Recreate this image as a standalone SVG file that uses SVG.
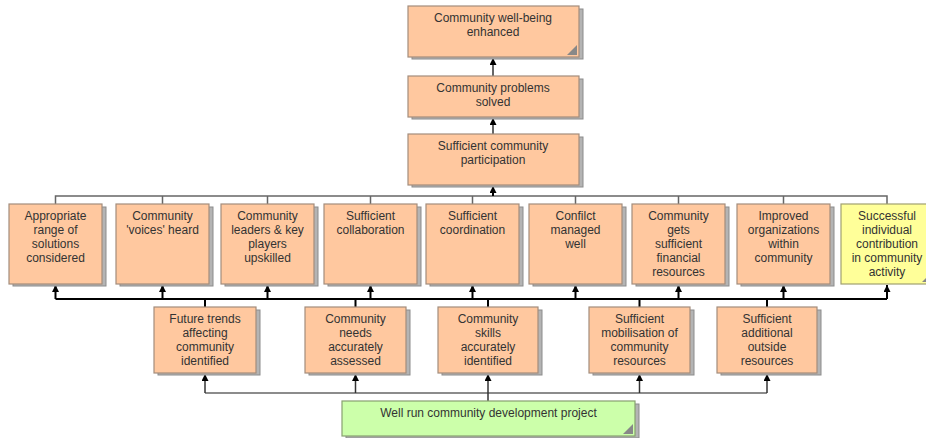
<svg xmlns="http://www.w3.org/2000/svg" width="926" height="438" viewBox="0 0 926 438">
<defs>
<marker id="ah" markerWidth="7" markerHeight="7" refX="7" refY="3.5" orient="auto" markerUnits="userSpaceOnUse" viewBox="0 0 7 7">
<path d="M0,0 L7,3.5 L0,7 Z" fill="#000"/>
</marker>
</defs>
<style>
.sh{fill:#b4b4b4;stroke:#8c8c8c;stroke-width:1}
.bx{fill:#ffc89f;stroke:#a38d7c;stroke-width:1.2}
.yl{fill:#ffff99;stroke:#a0a070;stroke-width:1.2}
.gr{fill:#ccffaa;stroke:#88a070;stroke-width:1.2}
.cn{fill:#888}
text{font-family:"Liberation Sans",Arial,sans-serif;font-size:12px;fill:#333;text-anchor:middle}
.ln{fill:none;stroke:#666;stroke-width:1.5}
.lb{fill:none;stroke:#000;stroke-width:2}
.ar{fill:none;stroke:#333;stroke-width:1.5;marker-end:url(#ah)}
.arb{fill:none;stroke:#000;stroke-width:2;marker-end:url(#ah)}
</style>
<rect width="926" height="438" fill="#fff"/>

<g id="connectors">
<path class="ar" d="M493,76 V58"/>
<path class="ar" d="M493,134 V118"/>
<path class="ln" d="M55.5,204 V196 H887 V204 M162.5,196 V204 M267.5,196 V204 M370.5,196 V204 M472.5,196 V204 M575.5,196 V204 M678.5,196 V204 M783.5,196 V204"/>
<path class="arb" d="M493,196 V186"/>
<path class="lb" d="M55.5,299 H887 M205,307 V299 M355.5,307 V299 M488,307 V299 M639.5,307 V299 M767,307 V299"/>
<path class="arb" d="M55.5,299 V285"/>
<path class="arb" d="M162.5,299 V285"/>
<path class="arb" d="M267.5,299 V285"/>
<path class="arb" d="M370.5,299 V285"/>
<path class="arb" d="M472.5,299 V285"/>
<path class="arb" d="M575.5,299 V285"/>
<path class="arb" d="M678.5,299 V285"/>
<path class="arb" d="M783.5,299 V285"/>
<path class="arb" d="M887,299 V285"/>
<path class="ln" d="M205,393 H767"/>
<path class="ar" d="M205,393 V374"/>
<path class="ar" d="M355.5,393 V374"/>
<path class="ar" d="M488,401 V374"/>
<path class="ar" d="M639.5,393 V374"/>
<path class="ar" d="M767,393 V374"/>
</g>

<g id="n-wellbeing">
<rect class="sh" x="412" y="9" width="171" height="50"/>
<rect class="bx" x="408" y="6" width="171" height="51"/>
<path class="cn" d="M577,45 L577,55 L567,55 Z"/>
<text x="493" y="22">Community well-being</text>
<text x="493" y="36">enhanced</text>
</g>

<g id="n-problems">
<rect class="sh" x="412" y="79" width="171" height="40"/>
<rect class="bx" x="408" y="76" width="171" height="41"/>
<text x="493" y="92">Community problems</text>
<text x="493" y="106">solved</text>
</g>

<g id="n-participation">
<rect class="sh" x="412" y="137" width="171" height="50"/>
<rect class="bx" x="408" y="134" width="171" height="51"/>
<text x="493" y="150">Sufficient community</text>
<text x="493" y="164">participation</text>
</g>

<g id="n-range">
<rect class="sh" x="13" y="207" width="93" height="79"/>
<rect class="bx" x="9" y="204" width="93" height="80"/>
<text x="55.5" y="220">Appropriate</text>
<text x="55.5" y="234">range of</text>
<text x="55.5" y="248">solutions</text>
<text x="55.5" y="262">considered</text>
</g>

<g id="n-voices">
<rect class="sh" x="120" y="207" width="93" height="79"/>
<rect class="bx" x="116" y="204" width="93" height="80"/>
<text x="162.5" y="220">Community</text>
<text x="162.5" y="234">'voices' heard</text>
</g>

<g id="n-leaders">
<rect class="sh" x="225" y="207" width="93" height="79"/>
<rect class="bx" x="221" y="204" width="93" height="80"/>
<text x="267.5" y="220">Community</text>
<text x="267.5" y="234">leaders &amp; key</text>
<text x="267.5" y="248">players</text>
<text x="267.5" y="262">upskilled</text>
</g>

<g id="n-collaboration">
<rect class="sh" x="328" y="207" width="93" height="79"/>
<rect class="bx" x="324" y="204" width="93" height="80"/>
<text x="370.5" y="220">Sufficient</text>
<text x="370.5" y="234">collaboration</text>
</g>

<g id="n-coordination">
<rect class="sh" x="430" y="207" width="93" height="79"/>
<rect class="bx" x="426" y="204" width="93" height="80"/>
<text x="472.5" y="220">Sufficient</text>
<text x="472.5" y="234">coordination</text>
</g>

<g id="n-conflict">
<rect class="sh" x="533" y="207" width="93" height="79"/>
<rect class="bx" x="529" y="204" width="93" height="80"/>
<text x="575.5" y="220">Confilct</text>
<text x="575.5" y="234">managed</text>
<text x="575.5" y="248">well</text>
</g>

<g id="n-financial">
<rect class="sh" x="636" y="207" width="93" height="79"/>
<rect class="bx" x="632" y="204" width="93" height="80"/>
<text x="678.5" y="220">Community</text>
<text x="678.5" y="234">gets</text>
<text x="678.5" y="248">sufficient</text>
<text x="678.5" y="262">financial</text>
<text x="678.5" y="276">resources</text>
</g>

<g id="n-organizations">
<rect class="sh" x="741" y="207" width="93" height="79"/>
<rect class="bx" x="737" y="204" width="93" height="80"/>
<text x="783.5" y="220">Improved</text>
<text x="783.5" y="234">organizations</text>
<text x="783.5" y="248">within</text>
<text x="783.5" y="262">community</text>
</g>

<g id="n-individual">
<rect class="yl" x="841" y="204" width="93" height="80"/>
<path class="cn" d="M932,272 L932,282 L922,282 Z"/>
<text x="887" y="220">Successful</text>
<text x="887" y="234">individual</text>
<text x="887" y="248">contribution</text>
<text x="887" y="262">in community</text>
<text x="887" y="276">activity</text>
</g>

<g id="n-trends">
<rect class="sh" x="158" y="310" width="102" height="65"/>
<rect class="bx" x="154" y="307" width="102" height="66"/>
<text x="205" y="323">Future trends</text>
<text x="205" y="337">affecting</text>
<text x="205" y="351">community</text>
<text x="205" y="365">identified</text>
</g>

<g id="n-needs">
<rect class="sh" x="309" y="310" width="101" height="65"/>
<rect class="bx" x="305" y="307" width="101" height="66"/>
<text x="355.5" y="323">Community</text>
<text x="355.5" y="337">needs</text>
<text x="355.5" y="351">accurately</text>
<text x="355.5" y="365">assessed</text>
</g>

<g id="n-skills">
<rect class="sh" x="442" y="310" width="100" height="65"/>
<rect class="bx" x="438" y="307" width="100" height="66"/>
<text x="488" y="323">Community</text>
<text x="488" y="337">skills</text>
<text x="488" y="351">accurately</text>
<text x="488" y="365">identified</text>
</g>

<g id="n-mobilisation">
<rect class="sh" x="593" y="310" width="101" height="65"/>
<rect class="bx" x="589" y="307" width="101" height="66"/>
<text x="639.5" y="323">Sufficient</text>
<text x="639.5" y="337">mobilisation of</text>
<text x="639.5" y="351">community</text>
<text x="639.5" y="365">resources</text>
</g>

<g id="n-outside">
<rect class="sh" x="721" y="310" width="100" height="65"/>
<rect class="bx" x="717" y="307" width="100" height="66"/>
<text x="767" y="323">Sufficient</text>
<text x="767" y="337">additional</text>
<text x="767" y="351">outside</text>
<text x="767" y="365">resources</text>
</g>

<g id="n-project">
<rect class="sh" x="346" y="404" width="293" height="34"/>
<rect class="gr" x="342" y="401" width="293" height="35"/>
<path class="cn" d="M633,424 L633,434 L623,434 Z"/>
<text x="488.5" y="417">Well run community development project</text>
</g>
</svg>
